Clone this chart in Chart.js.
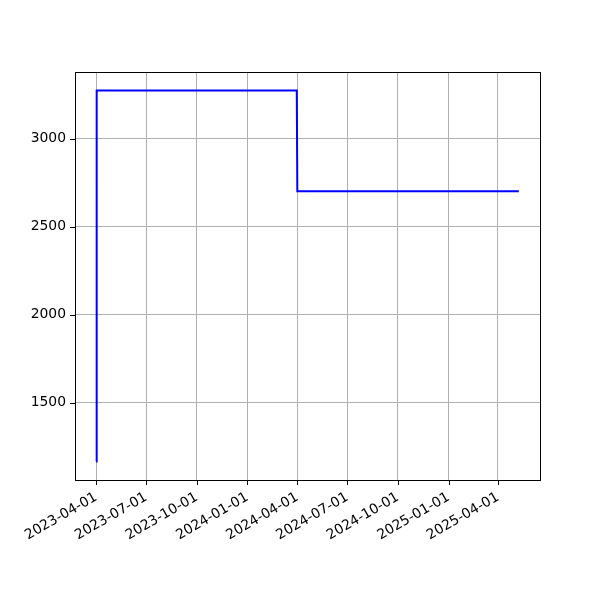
<!DOCTYPE html>
<html>
<head>
<meta charset="utf-8">
<script src="https://cdn.jsdelivr.net/npm/chart.js@4/dist/chart.umd.min.js"></script>
<style>
  html, body { margin: 0; padding: 0; background: #fff; }
  #wrap { width: 600px; height: 600px; }
</style>
</head>
<body>
<div id="wrap"><canvas id="chart" width="600" height="600"></canvas></div>
<script>
// series (step-like values)
const dates = ['2023-04-01', '2023-04-02', '2024-03-31', '2024-04-01', '2025-05-09'];
const values = [1165, 3273, 3273, 2700, 2700];

// tick labels
const xTickLabels = ['2023-04-01', '2023-07-01', '2023-10-01', '2024-01-01', '2024-04-01',
                     '2024-07-01', '2024-10-01', '2025-01-01', '2025-04-01'];
const yTickValues = [1500, 2000, 2500, 3000];

const toMs = s => Date.parse(s + 'T00:00:00Z');
const pad2 = n => String(n).padStart(2, '0');
const fmtDate = ms => {
  const d = new Date(ms);
  return d.getUTCFullYear() + '-' + pad2(d.getUTCMonth() + 1) + '-' + pad2(d.getUTCDate());
};

const xs = dates.map(toMs);
const xSpan = xs[xs.length - 1] - xs[0];
const yMinV = Math.min(...values), yMaxV = Math.max(...values);
const ySpan = yMaxV - yMinV;

const points = xs.map((x, i) => ({ x: x, y: values[i] }));

// frame + black tick marks, matplotlib style
const framePlugin = {
  id: 'frame',
  afterDraw(chart) {
    const { ctx, chartArea: a, scales } = chart;
    ctx.save();
    ctx.strokeStyle = '#000';
    ctx.lineWidth = 1;
    ctx.beginPath();
    scales.x.ticks.forEach(t => {
      const px = Math.round(scales.x.getPixelForValue(t.value)) + 0.5;
      ctx.moveTo(px, a.bottom);
      ctx.lineTo(px, a.bottom + 5);
    });
    scales.y.ticks.forEach(t => {
      const py = Math.round(scales.y.getPixelForValue(t.value)) + 0.5;
      ctx.moveTo(a.left - 5, py);
      ctx.lineTo(a.left, py);
    });
    ctx.stroke();
    ctx.strokeRect(Math.round(a.left) + 0.5, Math.round(a.top) + 0.5,
                   Math.round(a.right - a.left), Math.round(a.bottom - a.top));
    ctx.restore();
  }
};

new Chart(document.getElementById('chart').getContext('2d'), {
  type: 'line',
  data: {
    datasets: [{
      data: points,
      borderColor: '#0000ff',
      borderWidth: 2,
      pointRadius: 0,
      tension: 0,
      fill: false
    }]
  },
  options: {
    responsive: false,
    animation: false,
    layout: { padding: { top: 72, right: 60, left: 0, bottom: 0 } },
    plugins: { legend: { display: false }, tooltip: { enabled: false } },
    scales: {
      x: {
        type: 'linear',
        min: xs[0] - xSpan * 0.05,
        max: xs[xs.length - 1] + xSpan * 0.05,
        afterBuildTicks: s => { s.ticks = xTickLabels.map(l => ({ value: toMs(l) })); },
        afterFit: s => { s.height = 120; },
        grid: { color: '#b0b0b0', lineWidth: 1, drawTicks: false },
        border: { display: false },
        ticks: {
          autoSkip: false,
          minRotation: 30,
          maxRotation: 30,
          padding: 9,
          color: '#000',
          font: { family: 'DejaVu Sans', size: 13.9 },
          callback: v => fmtDate(v)
        }
      },
      y: {
        min: yMinV - ySpan * 0.05,
        max: yMaxV + ySpan * 0.05,
        afterBuildTicks: s => { s.ticks = yTickValues.map(v => ({ value: v })); },
        afterFit: s => { s.width = 75; },
        grid: { color: '#b0b0b0', lineWidth: 1, drawTicks: false },
        border: { display: false },
        ticks: {
          padding: 9,
          color: '#000',
          font: { family: 'DejaVu Sans', size: 13.9 },
          callback: v => String(v)
        }
      }
    }
  },
  plugins: [framePlugin]
});
</script>
</body>
</html>
